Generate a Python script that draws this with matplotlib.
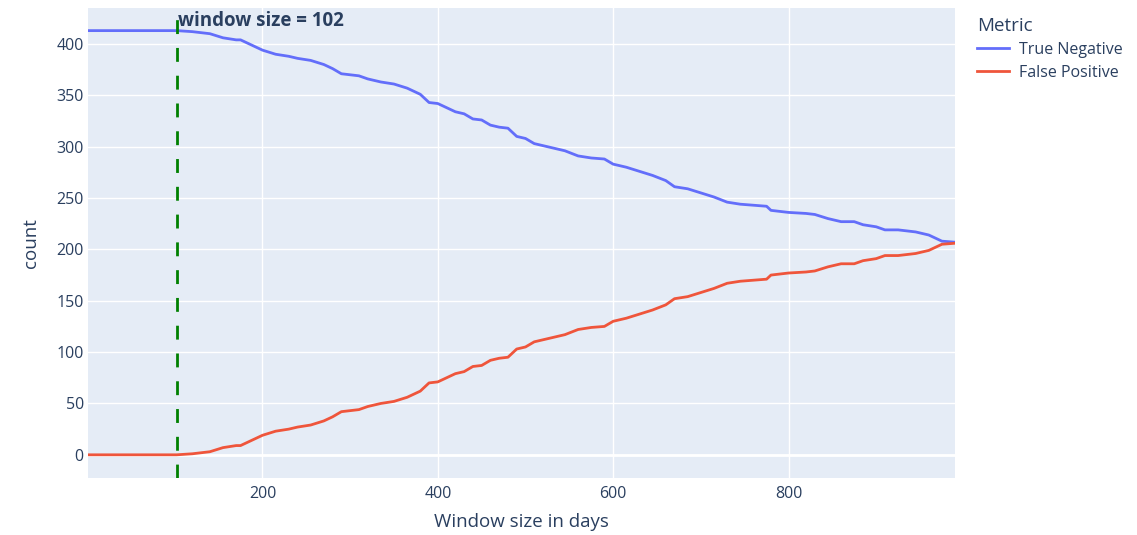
import matplotlib
matplotlib.use("Agg")
import matplotlib.pyplot as plt

# window sizes (days) and counts
window = [1, 102, 120, 140, 155, 170, 175, 200, 215, 230, 240, 255, 270, 280, 290,
          300, 310, 320, 335, 350, 365, 380, 390, 400, 410, 420, 430, 440, 450, 460,
          470, 480, 490, 500, 510, 525, 545, 560, 575, 590, 600, 615, 630, 645, 660,
          670, 685, 700, 715, 730, 745, 760, 775, 780, 800, 820, 830, 845, 860, 875,
          885, 900, 910, 925, 945, 960, 975, 990]
true_negative = [413, 413, 412, 410, 406, 404, 404, 394, 390, 388, 386, 384, 380, 376, 371,
                 370, 369, 366, 363, 361, 357, 351, 343, 342, 338, 334, 332, 327, 326, 321,
                 319, 318, 310, 308, 303, 300, 296, 291, 289, 288, 283, 280, 276, 272, 267,
                 261, 259, 255, 251, 246, 244, 243, 242, 238, 236, 235, 234, 230, 227, 227,
                 224, 222, 219, 219, 217, 214, 208, 207]
false_positive = [0, 0, 1, 3, 7, 9, 9, 19, 23, 25, 27, 29, 33, 37, 42,
                  43, 44, 47, 50, 52, 56, 62, 70, 71, 75, 79, 81, 86, 87, 92,
                  94, 95, 103, 105, 110, 113, 117, 122, 124, 125, 130, 133, 137, 141, 146,
                  152, 154, 158, 162, 167, 169, 170, 171, 175, 177, 178, 179, 183, 186, 186,
                  189, 191, 194, 194, 196, 199, 205, 206]
best_window = 102

plt.rcParams['font.family'] = ['Open Sans', 'DejaVu Sans']
text_col = '#2a3f5f'

fig = plt.figure(figsize=(11.37, 5.35), dpi=100)
ax = fig.add_axes([0.0774, 0.1065, 0.7626, 0.8785])
ax.set_facecolor('#E5ECF6')

ax.plot(window, true_negative, color='#636efa', lw=2, label='True Negative', zorder=3)
ax.plot(window, false_positive, color='#EF553B', lw=2, label='False Positive', zorder=3)
ax.axvline(best_window, color='green', lw=2, ls=(0, (5, 5)), zorder=4)
ax.text(best_window + 2, 422, 'window size = ' + str(best_window), fontsize=13.5,
        fontweight='bold', color=text_col, va='center', ha='left', zorder=5)

ax.set_xlim(1, 990)
ax.set_ylim(-22.6, 435)
ax.set_xticks([200, 400, 600, 800])
ax.set_yticks(range(0, 401, 50))
ax.grid(color='white', lw=1, zorder=0)
ax.axhline(0, color='white', lw=2, zorder=1)
ax.set_axisbelow(True)
for s in ax.spines.values():
    s.set_visible(False)
ax.tick_params(length=0, labelsize=11.5, labelcolor=text_col)
ax.tick_params(axis='y', pad=3)
ax.tick_params(axis='x', pad=6)

ax.set_xlabel('Window size in days', fontsize=13.5, color=text_col, labelpad=8)
ax.set_ylabel('count', fontsize=13.5, color=text_col, labelpad=12)

leg = fig.legend(loc='upper left', bbox_to_anchor=(0.847, 0.996), frameon=False,
                 title='Metric', fontsize=11.5, title_fontsize=13.5, handlelength=2.0,
                 handletextpad=0.6, alignment='left', labelspacing=0.45)
for t in leg.get_texts():
    t.set_color(text_col)
leg.get_title().set_color(text_col)

fig.savefig('out.png', dpi=100)
